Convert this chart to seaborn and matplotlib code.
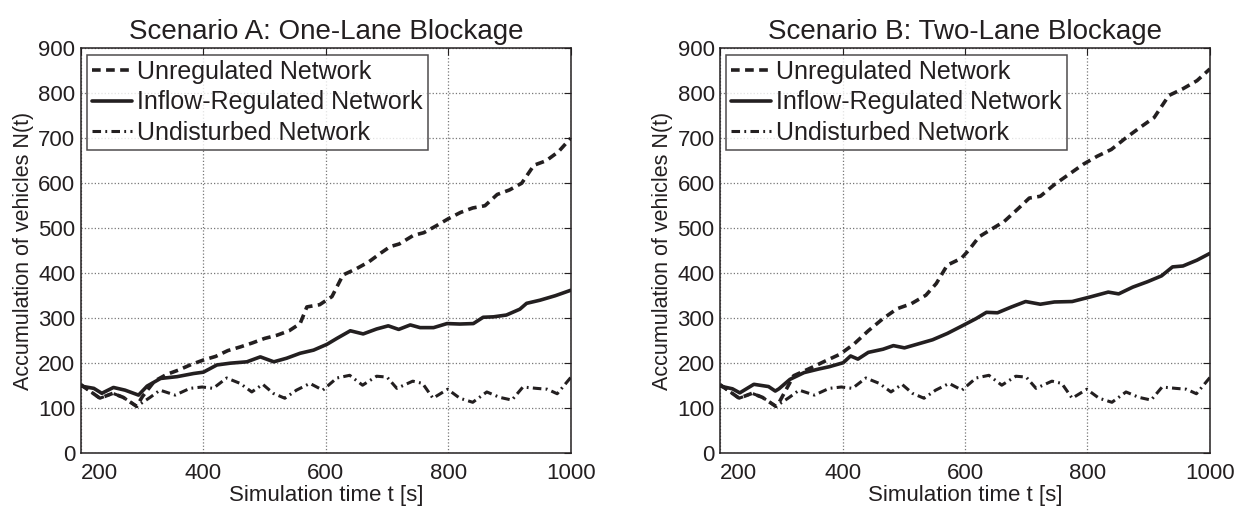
import numpy as np
import pandas as pd
import seaborn as sns
import matplotlib.pyplot as plt

# --- data ---
# Undisturbed network (same in both scenarios)
t_undist = [200, 231, 252, 269, 291, 313, 329, 354, 378, 398, 416, 438, 460, 479, 497,
            514, 533, 552, 574, 595, 618, 639, 660, 683, 700, 716, 742, 758, 775, 799,
            819, 840, 863, 884, 904, 922, 944, 962, 978, 1000]
n_undist = [152, 122, 133, 124, 104, 124, 140, 129, 144, 147, 144, 167, 155, 136, 153,
            133, 122, 140, 155, 140, 167, 173, 151, 171, 169, 144, 160, 155, 122, 142,
            122, 113, 136, 124, 118, 147, 144, 142, 132, 168]

# Scenario A
t_unreg_a = [200, 231, 252, 269, 291, 300, 320, 340, 360, 380, 400, 420, 440, 460, 480,
             500, 520, 540, 558, 569, 590, 610, 628, 650, 670, 690, 705, 720, 743, 760,
             780, 800, 820, 840, 860, 880, 900, 920, 940, 960, 980, 1000]
n_unreg_a = [152, 122, 133, 124, 104, 125, 160, 175, 185, 197, 207, 215, 228, 236, 245,
             255, 262, 272, 288, 325, 330, 348, 396, 410, 425, 445, 459, 465, 484, 490,
             505, 521, 535, 545, 550, 575, 585, 600, 640, 650, 670, 700]
t_reg_a = [200, 221, 234, 253, 272, 286, 294, 308, 330, 357, 384, 400, 422, 444, 471,
           493, 515, 536, 558, 580, 602, 618, 640, 661, 683, 702, 719, 738, 754, 776,
           798, 819, 841, 857, 874, 895, 917, 928, 950, 975, 1000]
n_reg_a = [149, 144, 133, 146, 140, 133, 129, 149, 166, 170, 177, 180, 196, 200, 203,
           214, 203, 211, 222, 229, 242, 255, 272, 265, 276, 283, 275, 285, 279, 279,
           288, 287, 288, 302, 303, 307, 320, 333, 340, 350, 362]

# Scenario B
t_unreg_b = [200, 231, 252, 269, 291, 296, 320, 349, 372, 396, 419, 442, 466, 489, 512,
             536, 553, 571, 594, 606, 623, 641, 664, 688, 705, 723, 746, 769, 793, 816,
             839, 863, 886, 909, 933, 956, 979, 1000]
n_unreg_b = [152, 122, 133, 124, 104, 112, 172, 190, 205, 220, 243, 272, 299, 321, 332,
             351, 377, 418, 433, 451, 481, 496, 515, 545, 567, 571, 597, 619, 642, 660,
             675, 701, 724, 746, 795, 810, 828, 854]
t_reg_b = [200, 220, 232, 255, 279, 290, 296, 314, 337, 361, 378, 401, 413, 425, 442,
           466, 483, 501, 524, 547, 571, 594, 618, 635, 653, 676, 699, 723, 746, 775,
           804, 834, 851, 874, 898, 921, 939, 956, 979, 1000]
n_reg_b = [149, 143, 134, 153, 148, 138, 143, 164, 179, 187, 192, 201, 216, 209, 224,
           231, 239, 234, 243, 252, 266, 282, 299, 313, 312, 325, 337, 331, 336, 337,
           347, 358, 354, 369, 381, 394, 414, 416, 429, 444]

titles = ["Scenario A: One-Lane Blockage", "Scenario B: Two-Lane Blockage"]
x_ticks = [200, 400, 600, 800, 1000]
y_ticks = list(range(0, 901, 100))

sns.set_theme(style="white")
plt.rcParams['font.family'] = ['Liberation Sans', 'DejaVu Sans']

ink = '#231f20'
fig = plt.figure(figsize=(12.46, 5.08), dpi=100)
ax_a = fig.add_axes([0.065, 0.108, 0.393, 0.797])
ax_b = fig.add_axes([0.578, 0.108, 0.393, 0.797])

panels = [
    (ax_a, titles[0], (t_unreg_a, n_unreg_a), (t_reg_a, n_reg_a)),
    (ax_b, titles[1], (t_unreg_b, n_unreg_b), (t_reg_b, n_reg_b)),
]

for ax, title, unreg, reg in panels:
    sns.lineplot(x=unreg[0], y=unreg[1], ax=ax, color=ink, lw=2.6,
                 linestyle=(0, (2.4, 1.5)), label='Unregulated Network', estimator=None)
    sns.lineplot(x=reg[0], y=reg[1], ax=ax, color=ink, lw=2.6,
                 label='Inflow-Regulated Network', estimator=None)
    sns.lineplot(x=t_undist, y=n_undist, ax=ax, color=ink, lw=2.2,
                 linestyle=(0, (2.8, 1.4, 0.6, 1.4)), label='Undisturbed Network',
                 estimator=None)

    ax.set_xlim(200, 1000)
    ax.set_ylim(0, 900)
    ax.set_xticks(x_ticks)
    ax.set_yticks(y_ticks)
    ax.grid(True, linestyle=':', color='#777777', lw=0.9)
    ax.tick_params(direction='in', length=5, width=0.8, top=True, right=True,
                   labelsize=16, colors=ink, pad=4)
    ax.tick_params(axis='x', pad=7)
    ax.get_xticklabels()[0].set_horizontalalignment('left')
    for s in ax.spines.values():
        s.set_color(ink)
        s.set_linewidth(1.1)
    ax.set_title(title, fontsize=20, color=ink, pad=7)
    ax.set_xlabel('Simulation time t [s]', fontsize=16, color=ink, labelpad=1)
    ax.set_ylabel('Accumulation of vehicles N(t)', fontsize=15.5, color=ink, labelpad=3)

    leg = ax.legend(loc='upper left', fontsize=18, frameon=True, fancybox=False,
                    handlelength=1.6, handletextpad=0.2, borderpad=0.2,
                    labelspacing=0.27, borderaxespad=0.25)
    leg.get_frame().set_edgecolor(ink)
    leg.get_frame().set_linewidth(1.1)
    for txt in leg.get_texts():
        txt.set_color(ink)

fig.savefig('out.png', dpi=100)
